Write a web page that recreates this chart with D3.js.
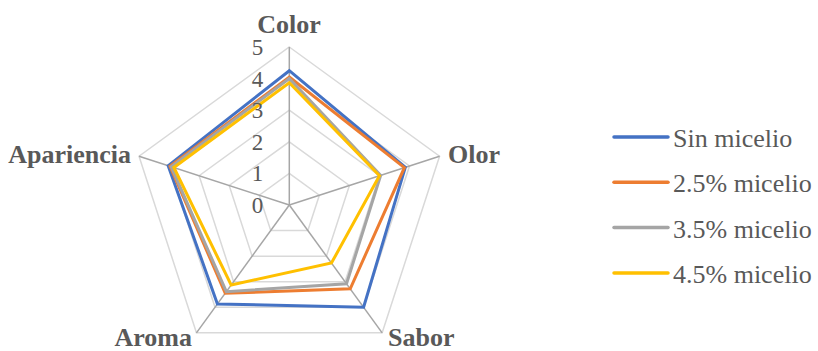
<!DOCTYPE html>
<html>
<head>
    <meta charset="UTF-8">
    <script src="https://cdn.jsdelivr.net/npm/d3@7"></script>
</head>
<body style="margin:0">
<script>
    const width = 818
    const height = 351

    // data
    const axes = ["Color", "Olor", "Sabor", "Aroma", "Apariencia"]
    const seriesNames = ["Sin micelio", "2.5% micelio", "3.5% micelio", "4.5% micelio"]
    const sinMicelio = [4.25, 3.86, 4.0, 3.87, 4.03]
    const micelio25 = [4.05, 3.83, 3.28, 3.45, 3.97]
    const micelio35 = [4.0, 3.04, 3.08, 3.39, 3.93]
    const micelio45 = [3.87, 3.0, 2.27, 3.13, 3.84]
    const ticks = [0, 1, 2, 3, 4, 5]
    const colors = ["#4472C4", "#ED7D31", "#A5A5A5", "#FFC000"]

    const cx = 289.3, cy = 205, R = 158

    let svg = d3.select("body").append("svg")
        .attr("width", width).attr("height", height)

    let r = d3.scaleLinear().domain([0, 5]).range([0, R])
    let angle = d3.scalePoint().domain(axes).range([0, 2 * Math.PI * 4 / 5])

    // rings
    let ring = d3.lineRadial()
        .angle(d => angle(d.a))
        .radius(d => r(d.v))
        .curve(d3.curveLinearClosed)

    let g = svg.append("g").attr("transform", `translate(${cx},${cy})`)

    g.selectAll(".ring")
        .data(ticks.slice(1))
        .enter()
        .append("path")
        .attr("d", t => ring(axes.map(a => ({a: a, v: t}))))
        .attr("fill", "none")
        .attr("stroke", "#d9d9d9")
        .attr("stroke-width", 1.5)

    // spokes
    g.selectAll(".spoke")
        .data(axes)
        .enter()
        .append("line")
        .attr("x1", 0).attr("y1", 0)
        .attr("x2", a => r(5) * Math.sin(angle(a)))
        .attr("y2", a => -r(5) * Math.cos(angle(a)))
        .attr("stroke", "#a6a6a6")
        .attr("stroke-width", 1.5)

    // series
    const allSeries = [sinMicelio, micelio25, micelio35, micelio45]
    g.selectAll(".series")
        .data(allSeries)
        .enter()
        .append("path")
        .attr("d", s => ring(s.map((v, i) => ({a: axes[i], v: v}))))
        .attr("fill", "none")
        .attr("stroke", (s, i) => colors[i])
        .attr("stroke-width", 3)

    // tick labels
    svg.selectAll(".tick")
        .data(ticks)
        .enter()
        .append("text")
        .attr("x", cx - 26)
        .attr("y", t => cy - r(t) + 8)
        .attr("text-anchor", "end")
        .style("font-family", d => `"Liberation Serif"`)
        .attr("font-size", 23)
        .attr("fill", "#595959")
        .text(t => t)

    // axis labels
    const labelX = [289, 448, 388, 192, 131]
    const labelY = [33, 163, 346, 346, 163]
    const labelAnchor = ["middle", "start", "start", "end", "end"]
    svg.selectAll(".axisLabel")
        .data(axes)
        .enter()
        .append("text")
        .attr("x", (a, i) => labelX[i])
        .attr("y", (a, i) => labelY[i])
        .attr("text-anchor", (a, i) => labelAnchor[i])
        .style("font-family", d => `"Liberation Serif"`)
        .attr("font-size", 26)
        .attr("font-weight", "bold")
        .attr("fill", "#595959")
        .text(a => a)

    // legend
    svg.selectAll(".legLine")
        .data(seriesNames)
        .enter()
        .append("line")
        .attr("x1", 614).attr("x2", 668)
        .attr("y1", (d, i) => 137 + i * 45.3)
        .attr("y2", (d, i) => 137 + i * 45.3)
        .attr("stroke", (d, i) => colors[i])
        .attr("stroke-width", 3.5)
        .attr("stroke-linecap", "round")
    svg.selectAll(".legText")
        .data(seriesNames)
        .enter()
        .append("text")
        .attr("x", 673)
        .attr("y", (d, i) => 147 + i * 45.3)
        .style("font-family", d => `"Liberation Serif"`)
        .attr("font-size", 26)
        .attr("fill", "#595959")
        .text(d => d)
</script>
</body>
</html>
